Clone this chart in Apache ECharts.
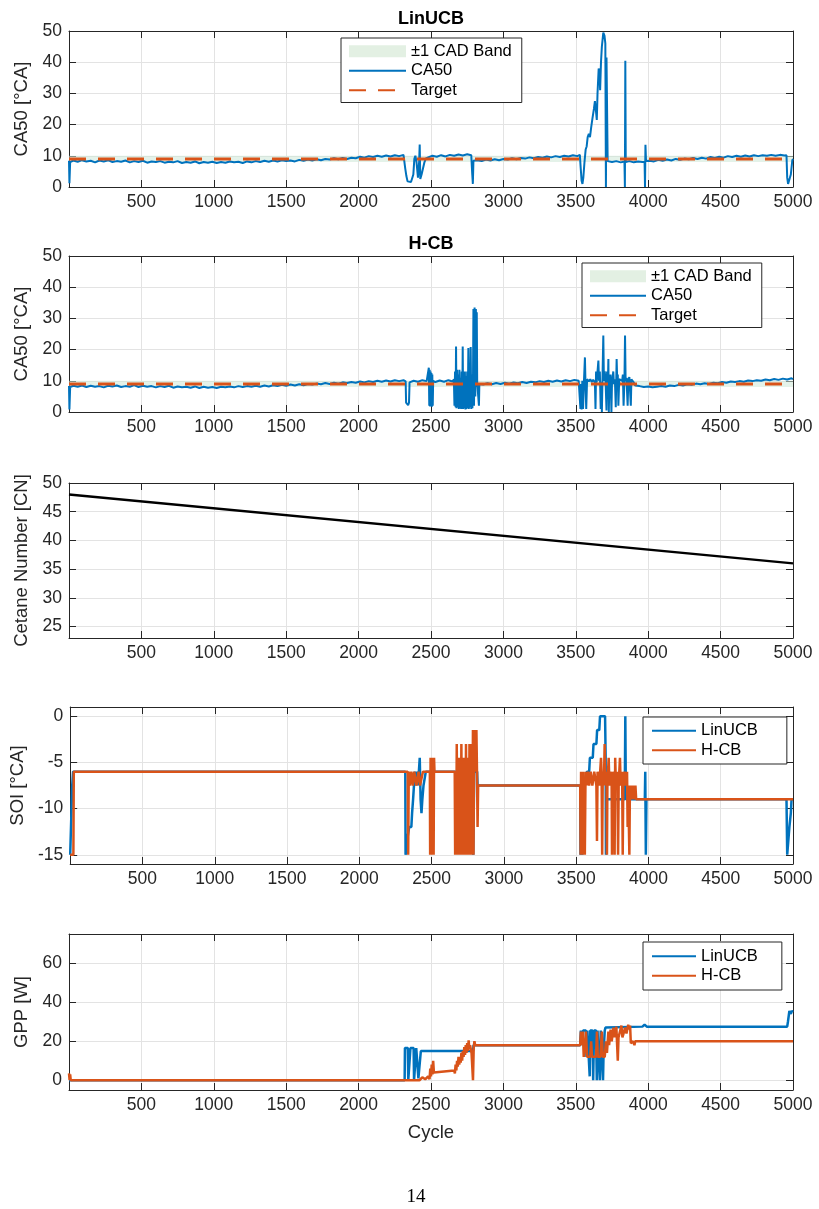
<!DOCTYPE html>
<html><head><meta charset="utf-8">
<script src="https://cdn.jsdelivr.net/npm/echarts@6/dist/echarts.min.js"></script>
<style>html,body{margin:0;padding:0;background:#fff}#c{width:819px;height:1209px}</style>
</head><body><div id="c"></div>
<script>
// ---------------- DATA ----------------
const cycleRange = [0, 5000];
const xTickStep = 500;
const yTicksCA50 = [0, 10, 20, 30, 40, 50];
const yTicksCetane = [25, 30, 35, 40, 45, 50];
const yTicksSOI = [-15, -10, -5, 0];
const yTicksGPP = [0, 20, 40, 60];

const targetCA50 = [[0, 9], [5000, 9]];
// [cycle start, cycle end, lower bound, upper bound]
const bandCA50 = [[0, 5000, 8, 10]];

const ca50LinUCB = [[0,8.4],[3,1.2],[8,8.0],[30,8.5],[60,8.1],[90,8.6],[120,8.2],[150,8.4],[180,7.9],[210,8.5],[240,8.2],[270,8.6],[300,8.0],[330,8.3],[360,8.1],[390,8.5],[420,7.9],[450,8.3],[480,8.0],[510,8.4],[540,7.8],[570,8.2],[600,8.0],[630,8.3],[660,7.8],[690,8.1],[720,7.9],[750,8.3],[780,7.7],[810,8.0],[840,7.8],[870,8.2],[900,7.6],[930,8.0],[960,7.8],[990,8.1],[1020,7.7],[1050,8.0],[1080,7.8],[1110,8.2],[1140,7.9],[1170,8.1],[1200,7.7],[1230,8.2],[1260,7.9],[1290,8.3],[1320,8.0],[1350,8.4],[1380,8.1],[1410,8.5],[1440,8.2],[1470,8.6],[1500,8.3],[1530,8.5],[1560,8.2],[1590,8.7],[1620,8.4],[1650,8.8],[1680,8.5],[1710,8.9],[1740,8.6],[1770,9.0],[1800,8.8],[1830,9.2],[1860,8.9],[1890,9.3],[1920,9.0],[1950,9.4],[1980,9.2],[2010,9.7],[2040,9.4],[2070,9.9],[2100,9.6],[2130,10.0],[2160,9.7],[2190,10.1],[2220,9.8],[2250,10.2],[2280,9.9],[2310,10.3],[2318,10.0],[2322,6],[2330,3.5],[2338,1.8],[2350,1.2],[2362,1.6],[2372,1.2],[2378,4],[2385,9],[2392,10],[2400,8],[2410,3],[2418,8],[2422,13.6],[2426,2.6],[2435,4],[2445,6],[2455,8],[2465,9.2],[2480,9.5],[2510,10.0],[2540,9.7],[2570,10.2],[2600,9.8],[2630,10.3],[2660,10.0],[2690,10.4],[2720,10.1],[2750,10.5],[2778,10.2],[2785,4],[2789,1.0],[2793,8.4],[2820,8.6],[2850,8.3],[2880,8.8],[2910,8.5],[2940,8.9],[2970,8.6],[3000,9.0],[3030,8.8],[3060,9.2],[3090,8.9],[3120,9.3],[3150,9.1],[3180,9.5],[3210,9.2],[3240,9.6],[3270,9.4],[3300,9.8],[3330,9.5],[3360,9.9],[3390,9.6],[3420,10.0],[3450,9.8],[3480,10.2],[3510,9.9],[3528,10.3],[3534,6],[3540,2],[3546,1.0],[3552,3],[3560,8],[3568,12],[3575,13],[3582,16],[3590,17],[3598,16],[3606,19],[3615,22],[3625,25],[3632,27.5],[3640,24],[3645,21.5],[3650,30],[3658,38],[3664,36],[3668,31],[3674,40],[3680,45],[3690,49.5],[3698,48.5],[3704,46],[3708,0],[3712,41.5],[3716,41],[3720,8.3],[3750,8.0],[3780,8.3],[3810,7.9],[3836,8.2],[3839,0],[3842,40.5],[3845,8.0],[3870,8.3],[3900,7.9],[3930,8.2],[3960,8.0],[3975,8.1],[3978,0],[3981,13.5],[3985,8.3],[4010,8.4],[4040,8.2],[4070,8.7],[4100,8.4],[4130,8.8],[4160,8.5],[4190,9.0],[4220,8.7],[4250,9.1],[4280,8.9],[4310,9.3],[4340,9.0],[4370,9.4],[4400,9.1],[4430,9.6],[4460,9.3],[4490,9.7],[4520,9.4],[4550,9.9],[4580,9.6],[4610,10.0],[4640,9.7],[4670,10.1],[4700,9.8],[4730,10.2],[4760,9.9],[4790,10.2],[4820,10.0],[4850,10.3],[4880,10.0],[4910,10.3],[4940,10.1],[4955,10.2],[4960,3],[4966,1.0],[4975,1.5],[4985,4],[4995,8.5],[5000,9]];

const ca50HCB = [[0,8.3],[3,0.8],[8,8.0],[30,8.4],[60,8.1],[90,8.5],[120,8.0],[150,8.4],[180,8.1],[210,8.3],[240,7.9],[270,8.4],[300,8.2],[330,8.5],[360,8.0],[390,8.3],[420,8.1],[450,8.6],[480,8.0],[510,8.4],[540,8.1],[570,8.3],[600,7.9],[630,8.3],[660,8.0],[690,8.4],[720,7.8],[750,8.2],[780,7.9],[810,8.1],[840,7.8],[870,8.2],[900,7.7],[930,8.1],[960,7.8],[990,8.0],[1020,7.7],[1050,8.1],[1080,7.9],[1110,8.2],[1140,7.9],[1170,8.3],[1200,8.0],[1230,8.3],[1260,8.1],[1290,8.4],[1320,8.1],[1350,8.5],[1380,8.2],[1410,8.6],[1440,8.3],[1470,8.7],[1500,8.4],[1530,8.8],[1560,8.5],[1590,8.9],[1620,8.6],[1650,9.0],[1680,8.8],[1710,9.1],[1740,8.9],[1770,9.3],[1800,9.0],[1830,9.4],[1860,9.1],[1890,9.5],[1920,9.3],[1950,9.6],[1980,9.4],[2010,9.8],[2040,9.5],[2070,9.9],[2100,9.6],[2130,10.0],[2160,9.7],[2190,10.1],[2220,9.8],[2250,10.2],[2280,9.9],[2310,10.2],[2325,9.8],[2328,3],[2334,2.5],[2342,2.2],[2348,3],[2352,9.5],[2380,10.0],[2410,9.7],[2440,10.2],[2470,9.9],[2482,10.5],[2485,14.2],[2488,2],[2491,13.5],[2494,1.8],[2497,13],[2500,2.2],[2503,12.5],[2506,1.7],[2509,12],[2512,2],[2515,10],[2530,9.6],[2560,10.1],[2590,9.7],[2620,10.2],[2650,9.8],[2658,10.5],[2662,2],[2666,13],[2670,1.5],[2673,21],[2676,1.2],[2680,13.5],[2684,1.5],[2688,12],[2692,1],[2696,13.5],[2700,1.2],[2704,11],[2708,1],[2712,13],[2716,1.3],[2719,21],[2722,1],[2726,12.5],[2730,1.2],[2734,13],[2738,0.8],[2742,11.5],[2746,1],[2750,13],[2754,1.2],[2758,20.5],[2762,1],[2766,12],[2770,1.5],[2774,20.8],[2778,1],[2782,12],[2786,1.2],[2790,10],[2793,33],[2797,2],[2801,33.5],[2806,5],[2810,33],[2813,8],[2816,32],[2819,9.5],[2828,9.2],[2831,2],[2834,9.0],[2860,8.8],[2890,9.2],[2920,8.9],[2950,9.3],[2980,9.0],[3010,9.4],[3040,9.1],[3070,9.5],[3100,9.2],[3130,9.6],[3160,9.3],[3190,9.7],[3220,9.5],[3250,9.9],[3280,9.6],[3310,10.0],[3340,9.7],[3370,10.1],[3400,9.8],[3430,10.2],[3460,9.9],[3490,10.3],[3520,10.0],[3528,10.3],[3532,1],[3536,9],[3540,0.8],[3545,10],[3550,1],[3556,9.5],[3563,17.5],[3567,9],[3572,1],[3578,10.5],[3590,9.8],[3600,10.5],[3610,9.6],[3620,10.3],[3632,9.5],[3636,1],[3640,13],[3644,9.5],[3650,10],[3656,16.5],[3660,10],[3666,13],[3672,1],[3676,9.5],[3680,0],[3684,10],[3690,24.5],[3694,10],[3700,13],[3706,9.5],[3712,0.5],[3716,13],[3722,10],[3725,17],[3728,0],[3732,10],[3740,12],[3746,0],[3750,9.5],[3759,13],[3763,9],[3770,10.5],[3776,1.5],[3782,17],[3786,10],[3790,12],[3794,2],[3800,10.5],[3810,11],[3820,10],[3825,12],[3830,2],[3836,10],[3840,24.5],[3844,10],[3850,11],[3858,2],[3863,10.5],[3870,11.2],[3874,11],[3880,2],[3884,10.5],[3890,11],[3900,9.5],[3910,8.5],[3940,8.3],[3970,8.0],[4000,8.2],[4030,7.9],[4060,8.1],[4090,8.3],[4120,8.1],[4150,8.5],[4180,8.3],[4210,8.7],[4240,8.5],[4270,8.9],[4300,8.7],[4330,9.1],[4360,8.9],[4390,9.2],[4420,9.0],[4450,9.4],[4480,9.2],[4510,9.6],[4540,9.4],[4570,9.8],[4600,9.6],[4630,9.9],[4660,9.7],[4690,10.1],[4720,9.9],[4750,10.2],[4780,10.0],[4810,10.4],[4840,10.2],[4870,10.6],[4900,10.3],[4930,10.7],[4960,10.4],[4990,10.8],[5000,10.5]];

const cetane = [[0, 48], [5000, 36]];

const soiLinUCB = [[0,-15],[12,-15],[14,-7.5],[18,-7.5],[20,-6],[2318,-6],[2320,-15],[2326,-15],[2330,-13.5],[2340,-13.5],[2345,-12],[2360,-12],[2365,-10.5],[2372,-9],[2378,-7.5],[2385,-6],[2392,-7.5],[2398,-6],[2405,-7.5],[2412,-6],[2418,-4.5],[2424,-9],[2430,-10.5],[2436,-9],[2444,-7.5],[2455,-7.5],[2460,-6],[2786,-6],[2788,-15],[2792,-15],[2795,-6],[2815,-6],[2818,-7.5],[3528,-7.5],[3530,-15],[3534,-10.5],[3538,-9],[3542,-15],[3546,-9],[3552,-7.5],[3560,-7.5],[3575,-6],[3590,-6],[3595,-4.5],[3615,-4.5],[3620,-3],[3640,-3],[3645,-1.5],[3660,-1.5],[3665,0],[3700,0],[3704,-4.5],[3706,-15],[3710,-9],[3836,-9],[3840,0],[3844,-9],[3975,-9],[3978,-6],[3982,-15],[3986,-9],[4955,-9],[4960,-15],[4970,-15],[4975,-12],[4985,-10.5],[4990,-9],[5000,-9]];

const soiHCB = [[0,-15],[22,-15],[25,-6],[2335,-6],[2338,-15],[2342,-6],[2350,-7.5],[2360,-6],[2370,-7.5],[2380,-6],[2395,-7.5],[2410,-6],[2420,-7.5],[2440,-6],[2488,-6],[2490,-15],[2493,-4.5],[2496,-15],[2499,-4.5],[2502,-15],[2505,-4.5],[2508,-15],[2511,-4.5],[2514,-15],[2517,-4.5],[2520,-6],[2660,-6],[2663,-15],[2667,-6],[2670,-15],[2674,-3],[2678,-15],[2682,-4.5],[2686,-15],[2690,-6],[2694,-15],[2698,-4.5],[2702,-15],[2706,-3],[2710,-15],[2714,-4.5],[2718,-15],[2722,-6],[2726,-15],[2730,-4.5],[2734,-15],[2738,-3],[2742,-15],[2746,-4.5],[2750,-15],[2754,-6],[2758,-15],[2762,-3],[2766,-15],[2770,-4.5],[2774,-15],[2778,-3],[2782,-15],[2786,-1.5],[2790,-15],[2794,-1.5],[2798,-6],[2802,-1.5],[2806,-4.5],[2810,-1.5],[2814,-6],[2818,-12],[2822,-7.5],[3528,-7.5],[3531,-15],[3534,-6],[3537,-15],[3540,-7.5],[3543,-15],[3547,-6],[3551,-15],[3555,-7.5],[3560,-15],[3565,-6],[3572,-7.5],[3580,-6],[3590,-7.5],[3600,-6],[3612,-7.5],[3625,-6],[3640,-7.5],[3644,-13.5],[3648,-6],[3660,-7.5],[3672,-4.5],[3676,-6],[3680,-15],[3684,-6],[3692,-7.5],[3697,-3],[3702,-7.5],[3710,-6],[3713,-15],[3716,-7.5],[3725,-4.5],[3730,-7.5],[3745,-6],[3748,-15],[3752,-7.5],[3762,-6],[3766,-15],[3770,-4.5],[3775,-7.5],[3785,-6],[3790,-15],[3794,-7.5],[3803,-4.5],[3808,-7.5],[3818,-6],[3822,-15],[3826,-7.5],[3835,-6],[3840,-7.5],[3852,-6],[3856,-12],[3860,-7.5],[3868,-15],[3872,-7.5],[3880,-9],[3885,-7.5],[3893,-9],[3898,-7.5],[3905,-9],[3910,-7.5],[3915,-9],[5000,-9]];

const gppLinUCB = [[0,0],[2318,0],[2320,16.5],[2340,16.5],[2343,0],[2355,0],[2358,16.5],[2380,16.5],[2383,0],[2395,0],[2398,16.5],[2410,16.5],[2413,1],[2425,1],[2430,15],[2790,15],[2794,18],[2800,17],[2805,19],[2815,18],[3530,18],[3535,25.5],[3545,18],[3550,25.5],[3570,25.5],[3574,12],[3580,25.5],[3590,25.5],[3596,2],[3600,25.5],[3615,25.5],[3620,0],[3626,25.5],[3640,25.5],[3645,0],[3650,25.5],[3662,25.5],[3666,0],[3672,25.5],[3685,25.5],[3688,0],[3692,15],[3700,25.5],[3705,27],[3960,27.5],[3975,28.5],[3990,27.5],[4960,27.5],[4965,30],[4975,35.5],[4985,34],[4992,35.5],[5000,35]];

const gppHCB = [[0,3.5],[4,0],[8,3],[12,0],[2400,0],[2410,1],[2420,0],[2440,1.5],[2460,0.5],[2480,2],[2490,0.5],[2495,6],[2500,2],[2505,8],[2510,3],[2515,10],[2520,4],[2525,5],[2660,5],[2665,3.5],[2670,8],[2675,5],[2680,10],[2685,7],[2690,12],[2695,8],[2700,11],[2705,9],[2710,14],[2715,10],[2720,15],[2725,12],[2730,17],[2735,13],[2740,18],[2745,14],[2750,19],[2755,15],[2760,20.5],[2765,16],[2770,18],[2780,14],[2790,0],[2795,17],[2800,20],[2805,18],[3530,18],[3535,25],[3540,18],[3548,25],[3555,12],[3565,18],[3570,25],[3578,12],[3600,12],[3606,20],[3612,12],[3640,12],[3646,25],[3652,12],[3670,12],[3680,25],[3686,12],[3700,12],[3708,20],[3715,14],[3725,25],[3730,18],[3740,26],[3748,20],[3760,27],[3768,22],[3780,27.5],[3790,10],[3795,22],[3805,25],[3815,28],[3822,22],[3830,24],[3840,27],[3850,24],[3862,28.5],[3868,26],[3875,28],[3880,19],[3886,18],[3895,20],[3905,18],[3910,20],[5000,20]];

// ---------------- STYLE ----------------
const FONT = '"Liberation Sans", Arial, Helvetica, sans-serif';
const AX = '#262626';
const GRIDC = '#e3e3e3';
const BLUE = '#0072BD';
const ORANGE = '#D95319';
const BANDC = 'rgba(205,232,215,0.55)';
const BANDLEG = '#e3f0e3';

const grids = [
  {left: 69, right: 26, top: 31, height: 156},
  {left: 69, right: 26, top: 256, height: 156},
  {left: 69, right: 26, top: 483, height: 155},
  {left: 69, right: 26, top: 707, height: 157},
  {left: 69, right: 26, top: 934, height: 156}
];

const xAxis = [];
const yAxis = [];
function addX(gi, name) {
  xAxis.push({gridIndex: gi, type: 'value', min: cycleRange[0], max: cycleRange[1], interval: xTickStep,
    position: 'bottom',
    axisLine: {show: true, onZero: false, lineStyle: {color: AX, width: 1}},
    axisTick: {show: true, inside: true, length: 7, lineStyle: {color: AX, width: 1}},
    axisLabel: {color: AX, fontSize: 17.5, fontFamily: FONT, margin: 6, formatter: v => v === 0 ? '' : String(v)},
    splitLine: {show: true, lineStyle: {color: GRIDC, width: 1}},
    name: name || '', nameLocation: 'middle', nameGap: 33,
    nameTextStyle: {color: AX, fontSize: 18.5, fontFamily: FONT}
  });
  xAxis.push({gridIndex: gi, type: 'value', min: cycleRange[0], max: cycleRange[1], interval: xTickStep,
    position: 'top',
    axisLine: {show: true, onZero: false, lineStyle: {color: AX, width: 1}},
    axisTick: {show: true, inside: true, length: 7, lineStyle: {color: AX, width: 1}},
    axisLabel: {show: false}, splitLine: {show: false}
  });
}
function addY(gi, min, max, ticks, name, gap) {
  yAxis.push({gridIndex: gi, type: 'value', min: min, max: max, position: 'left',
    axisLine: {show: true, onZero: false, lineStyle: {color: AX, width: 1}},
    axisTick: {show: true, inside: true, length: 7, customValues: ticks, lineStyle: {color: AX, width: 1}},
    axisLabel: {color: AX, fontSize: 17.5, fontFamily: FONT, margin: 7, customValues: ticks},
    splitLine: {show: true, lineStyle: {color: GRIDC, width: 1}},
    name: name, nameLocation: 'middle', nameGap: gap,
    nameTextStyle: {color: AX, fontSize: 18.5, fontFamily: FONT}
  });
  yAxis.push({gridIndex: gi, type: 'value', min: min, max: max, position: 'right',
    axisLine: {show: true, onZero: false, lineStyle: {color: AX, width: 1}},
    axisTick: {show: true, inside: true, length: 7, customValues: ticks, lineStyle: {color: AX, width: 1}},
    axisLabel: {show: false}, splitLine: {show: false}
  });
}
for (let g = 0; g < 5; g++) addX(g, g === 4 ? 'Cycle' : '');
addY(0, 0, 50, yTicksCA50, 'CA50 [°CA]', 35);
addY(1, 0, 50, yTicksCA50, 'CA50 [°CA]', 35);
addY(2, 23, 50, yTicksCetane, 'Cetane Number [CN]', 35);
addY(3, -16, 1, yTicksSOI, 'SOI [°CA]', 42);
addY(4, -5, 75, yTicksGPP, 'GPP [W]', 35);

function line(name, gi, data, color, width, extra) {
  return Object.assign({
    name: name, type: 'line', xAxisIndex: gi * 2, yAxisIndex: gi * 2, data: data,
    symbol: 'none', showSymbol: false, animation: false,
    lineStyle: {color: color, width: width}, itemStyle: {color: color}
  }, extra || {});
}
function band(gi) {
  return {
    name: '±1 CAD Band', type: 'custom', xAxisIndex: gi * 2, yAxisIndex: gi * 2, data: bandCA50,
    encode: {x: [0, 1], y: [2, 3]}, itemStyle: {color: BANDLEG}, silent: true, animation: false,
    renderItem: function (params, api) {
      const a = api.coord([api.value(0), api.value(3)]);
      const b = api.coord([api.value(1), api.value(2)]);
      return {type: 'rect', shape: {x: a[0], y: a[1], width: b[0] - a[0], height: b[1] - a[1]},
        style: {fill: BANDC}};
    }
  };
}
const series = [];
for (let g = 0; g < 2; g++) {
  series.push(band(g));
  series.push(line('CA50', g, g === 0 ? ca50LinUCB : ca50HCB, BLUE, 2));
  series.push(line('Target', g, targetCA50, ORANGE, 3, {lineStyle: {color: ORANGE, width: 3, type: [17, 12]}}));
}
series.push(line('Cetane', 2, cetane, '#000', 2.5));
series.push(line('LinUCB', 3, soiLinUCB, BLUE, 2.5));
series.push(line('H-CB', 3, soiHCB, ORANGE, 2.5));
series.push(line('LinUCB', 4, gppLinUCB, BLUE, 2.5));
series.push(line('H-CB', 4, gppHCB, ORANGE, 2.5));

function legend(left, top, iconW, pad, names) {
  return {
    orient: 'vertical', left: left, top: top, itemWidth: iconW, itemHeight: 12, itemGap: 0,
    padding: pad, borderColor: AX, borderWidth: 1, backgroundColor: '#fff', borderRadius: 0,
    textStyle: {color: '#000', fontSize: 16.5, fontFamily: FONT, lineHeight: 19.5},
    itemStyle: {opacity: 0},
    selectedMode: false, data: names
  };
}
const bandItem = {name: '±1 CAD Band', icon: 'rect', itemStyle: {color: BANDLEG, opacity: 1}};
const legends = [
  legend(341, 38, 57, [3.5, 10, 2.5, 7], [bandItem, 'CA50', 'Target']),
  legend(582, 263, 56, [3.5, 10, 2.5, 7], [bandItem, 'CA50', 'Target']),
  legend(643, 717, 44, [4, 29, 4, 8], ['LinUCB', 'H-CB']),
  legend(643, 942, 44, [4.5, 24, 4.5, 8], ['LinUCB', 'H-CB'])
];

const graphic = [
  {type: 'text', x: 431, y: 18.7, style: {text: 'LinUCB', font: 'bold 18px ' + FONT, fill: '#000', textAlign: 'center', textVerticalAlign: 'middle'}},
  {type: 'text', x: 431, y: 243.7, style: {text: 'H-CB', font: 'bold 18px ' + FONT, fill: '#000', textAlign: 'center', textVerticalAlign: 'middle'}},
  {type: 'text', x: 416, y: 1197, style: {text: '14', font: '19px "Liberation Serif", "DejaVu Serif", serif', fill: '#000', textAlign: 'center', textVerticalAlign: 'middle'}}
];

const chart = echarts.init(document.getElementById('c'), null, {renderer: 'canvas'});
chart.setOption({
  animation: false,
  backgroundColor: '#fff',
  grid: grids,
  xAxis: xAxis,
  yAxis: yAxis,
  legend: legends,
  graphic: graphic,
  series: series
});
</script></body></html>
